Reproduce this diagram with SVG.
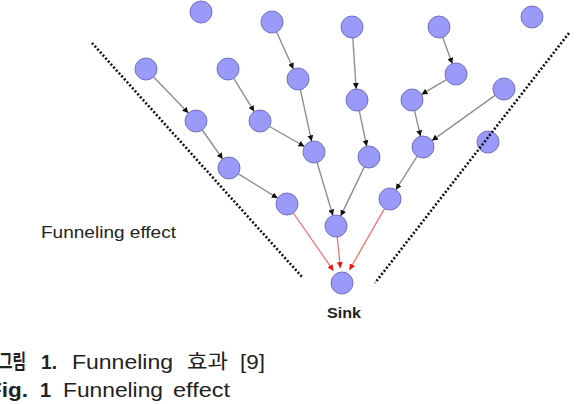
<svg xmlns="http://www.w3.org/2000/svg" width="576" height="404" viewBox="0 0 576 404">
<defs>
<style>
.node{fill:#9a9af8;stroke:#6f6fc4;stroke-width:1}
.e{stroke:#8f8f8f;stroke-width:1.4;fill:none;marker-end:url(#ah)}
.r{stroke:#f26a6a;stroke-width:1.2;fill:none;marker-end:url(#ahr)}
.dot{stroke:#111;stroke-width:2.6;stroke-dasharray:2 2;fill:none}
.t{font-family:"Liberation Sans",Arial,"Noto Sans CJK KR",sans-serif;fill:#222}
.b{font-weight:bold}
</style>
<marker id="ah" viewBox="0 0 10 10" refX="10" refY="5" markerWidth="6" markerHeight="6" markerUnits="userSpaceOnUse" orient="auto"><path d="M0,0 L10,5 L0,10 z" fill="#111"/></marker>
<marker id="ahr" viewBox="0 0 10 10" refX="10" refY="5" markerWidth="6" markerHeight="6" markerUnits="userSpaceOnUse" orient="auto"><path d="M0,0 L10,5 L0,10 z" fill="#ee1111"/></marker>
</defs>
<rect width="576" height="404" fill="#fff"/>
<g id="connectors">
<line class="e" x1="153.6" y1="76.9" x2="188.4" y2="113.1"/>
<line class="e" x1="202.3" y1="130.0" x2="222.7" y2="159.0"/>
<line class="e" x1="238.3" y1="173.8" x2="277.7" y2="198.2"/>
<line class="e" x1="233.8" y1="78.4" x2="254.2" y2="111.6"/>
<line class="e" x1="269.5" y1="126.5" x2="304.5" y2="146.5"/>
<line class="e" x1="276.6" y1="32.0" x2="293.4" y2="69.0"/>
<line class="e" x1="300.4" y1="89.7" x2="311.6" y2="141.3"/>
<line class="e" x1="352.8" y1="38.0" x2="356.2" y2="89.0"/>
<line class="e" x1="359.3" y1="110.8" x2="366.7" y2="146.2"/>
<line class="e" x1="317.1" y1="162.5" x2="332.9" y2="215.5"/>
<line class="e" x1="364.3" y1="166.9" x2="340.7" y2="216.1"/>
<line class="e" x1="442.7" y1="37.3" x2="452.3" y2="63.7"/>
<line class="e" x1="446.5" y1="79.6" x2="421.5" y2="94.4"/>
<line class="e" x1="414.5" y1="110.7" x2="420.5" y2="136.3"/>
<line class="e" x1="495.1" y1="95.4" x2="431.9" y2="140.6"/>
<line class="e" x1="417.1" y1="156.3" x2="395.9" y2="189.7"/>
<line class="r" x1="293.3" y1="213.0" x2="333.4" y2="270.7"/>
<line class="r" x1="337.2" y1="236.9" x2="340.4" y2="268.1"/>
<line class="r" x1="384.5" y1="208.6" x2="349.4" y2="270.0"/>
</g>
<g id="n1"><circle class="node" cx="201" cy="12" r="11"/></g>
<g id="n2"><circle class="node" cx="272" cy="22" r="11"/></g>
<g id="n3"><circle class="node" cx="352" cy="27" r="11"/></g>
<g id="n4"><circle class="node" cx="439" cy="27" r="11"/></g>
<g id="n5"><circle class="node" cx="532" cy="17" r="11"/></g>
<g id="n6"><circle class="node" cx="146" cy="69" r="11"/></g>
<g id="n7"><circle class="node" cx="228" cy="69" r="11"/></g>
<g id="n8"><circle class="node" cx="298" cy="79" r="11"/></g>
<g id="n9"><circle class="node" cx="357" cy="100" r="11"/></g>
<g id="n10"><circle class="node" cx="456" cy="74" r="11"/></g>
<g id="n11"><circle class="node" cx="412" cy="100" r="11"/></g>
<g id="n12"><circle class="node" cx="504" cy="89" r="11"/></g>
<g id="n13"><circle class="node" cx="196" cy="121" r="11"/></g>
<g id="n14"><circle class="node" cx="260" cy="121" r="11"/></g>
<g id="n15"><circle class="node" cx="314" cy="152" r="11"/></g>
<g id="n16"><circle class="node" cx="369" cy="157" r="11"/></g>
<g id="n17"><circle class="node" cx="423" cy="147" r="11"/></g>
<g id="n18"><circle class="node" cx="488" cy="142" r="11"/></g>
<g id="n19"><circle class="node" cx="229" cy="168" r="11"/></g>
<g id="n20"><circle class="node" cx="287" cy="204" r="11"/></g>
<g id="n21"><circle class="node" cx="336" cy="226" r="11"/></g>
<g id="n22"><circle class="node" cx="390" cy="199" r="11"/></g>
<g id="sink"><circle class="node" cx="342" cy="283" r="11"/>
<text class="t b" x="344" y="318" font-size="14" text-anchor="middle" textLength="34" lengthAdjust="spacingAndGlyphs">Sink</text></g>
<g id="funnel">
<line class="dot" x1="92" y1="43" x2="303" y2="278"/>
<line class="dot" x1="569" y1="33" x2="375" y2="283"/>
</g>
<text class="t" x="41" y="238" font-size="17" textLength="135" lengthAdjust="spacingAndGlyphs">Funneling effect</text>
<g id="caption" font-size="20">
<text class="t b" x="-1" y="369" textLength="27" lengthAdjust="spacingAndGlyphs">그림</text>
<text class="t b" x="41" y="369" textLength="16" lengthAdjust="spacingAndGlyphs">1.</text>
<text class="t" x="72" y="369" textLength="101" lengthAdjust="spacingAndGlyphs">Funneling</text>
<text class="t" x="187" y="369" textLength="41" lengthAdjust="spacingAndGlyphs">효과</text>
<text class="t" x="240" y="369" textLength="25" lengthAdjust="spacingAndGlyphs">[9]</text>
<text class="t b" x="-12" y="397" textLength="40" lengthAdjust="spacingAndGlyphs">Fig.</text>
<text class="t b" x="40" y="397" textLength="11" lengthAdjust="spacingAndGlyphs">1</text>
<text class="t" x="63" y="397" textLength="100" lengthAdjust="spacingAndGlyphs">Funneling</text>
<text class="t" x="173" y="397" textLength="57" lengthAdjust="spacingAndGlyphs">effect</text>
</g>
</svg>
